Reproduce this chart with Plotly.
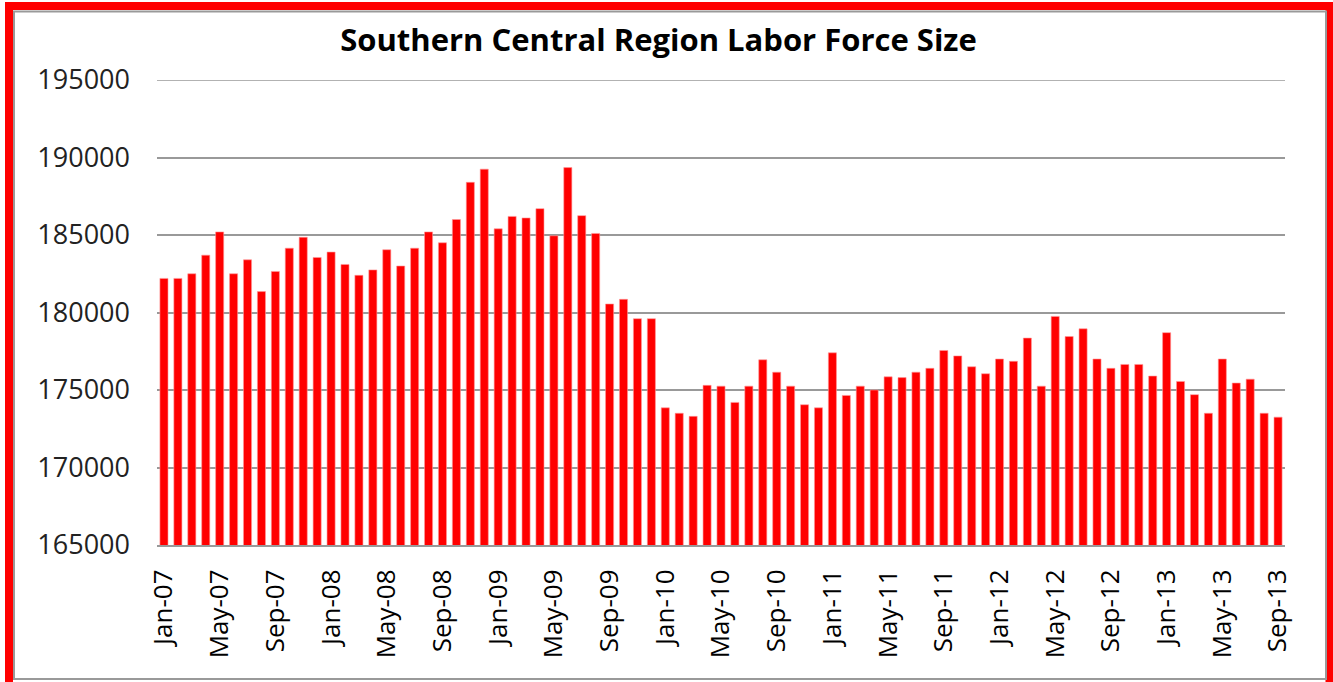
import plotly.graph_objects as go

months = ["Jan", "Feb", "Mar", "Apr", "May", "Jun", "Jul", "Aug", "Sep", "Oct", "Nov", "Dec"]
years = ["07", "08", "09", "10", "11", "12", "13"]
categories = [f"{m}-{y}" for y in years for m in months][:81]

labor_force = [
    182200, 182200, 182500, 183700, 185200, 182500, 183400, 181350, 182650, 184150, 184850, 183550,
    183900, 183100, 182400, 182750, 184050, 183000, 184150, 185200, 184500, 186000, 188400, 189250,
    185400, 186200, 186100, 186700, 184950, 189350, 186250, 185100, 180550, 180850, 179600, 179600,
    173850, 173500, 173300, 175300, 175250, 174200, 175250, 176950, 176150, 175250, 174050, 173850,
    177400, 174650, 175250, 175000, 175850, 175800, 176150, 176400, 177550, 177200, 176500, 176050,
    177000, 176850, 178350, 175250, 179750, 178450, 178950, 177000, 176400, 176650, 176650, 175900,
    178700, 175550, 174700, 173500, 177000, 175450, 175700, 173500, 173250,
]

tick_labels = categories[::4]
y_ticks = [165000, 170000, 175000, 180000, 185000, 190000, 195000]

FONT = "Open Sans"

fig = go.Figure(
    go.Bar(
        x=categories,
        y=labor_force,
        marker=dict(color="#ff0000", line=dict(color="#ff9999", width=0.6)),
        hoverinfo="x+y",
    )
)

L, R, T, B = 157, 1285, 80, 545
W, H = 1333, 682


def px(x):
    return (x - L) / (R - L)


def py(y):
    return (B - y) / (B - T)


fig.update_layout(
    width=W,
    height=H,
    margin=dict(l=L, r=W - R, t=T, b=H - B),
    paper_bgcolor="white",
    plot_bgcolor="white",
    bargap=0.42,
    showlegend=False,
    title=dict(
        text="<b>Southern Central Region Labor Force Size</b>",
        x=0.5 * (335 + 982) / W,
        xanchor="center",
        y=1 - 40 / H,
        yanchor="middle",
        font=dict(family=FONT, size=31, color="black"),
    ),
    xaxis=dict(
        type="category",
        tickmode="array",
        tickvals=tick_labels,
        ticktext=tick_labels,
        tickangle=-90,
        tickfont=dict(family=FONT, size=26, color="black"),
        showgrid=False,
        showline=True,
        linecolor="#999999",
        linewidth=2,
        ticks="",
        ticklabelstandoff=12,
    ),
    yaxis=dict(
        range=[165000, 195000],
        tickmode="array",
        tickvals=y_ticks,
        tickformat="d",
        tickfont=dict(family=FONT, size=27, color="#222222"),
        showgrid=True,
        gridcolor="#999999",
        gridwidth=1.5,
        zeroline=False,
        showline=False,
        ticks="",
        ticklabelstandoff=26,
    ),
    shapes=[
        dict(type="line", xref="paper", yref="y",
             x0=0, x1=1, y0=195000, y1=195000,
             line=dict(color="#999999", width=1.5), layer="below"),
        dict(type="rect", xref="paper", yref="paper",
             x0=px(9), x1=px(1329.5), y0=py(690), y1=py(6),
             line=dict(color="#ff0000", width=8), fillcolor="rgba(0,0,0,0)", layer="above"),
        dict(type="rect", xref="paper", yref="paper",
             x0=px(14), x1=px(1326), y0=py(679), y1=py(11.5),
             line=dict(color="#999999", width=2), fillcolor="rgba(0,0,0,0)", layer="above"),
    ],
)

fig.write_html(
    "out.html",
    config={"displayModeBar": False},
    post_script="document.body.style.margin='0';document.body.style.overflow='hidden';",
)
